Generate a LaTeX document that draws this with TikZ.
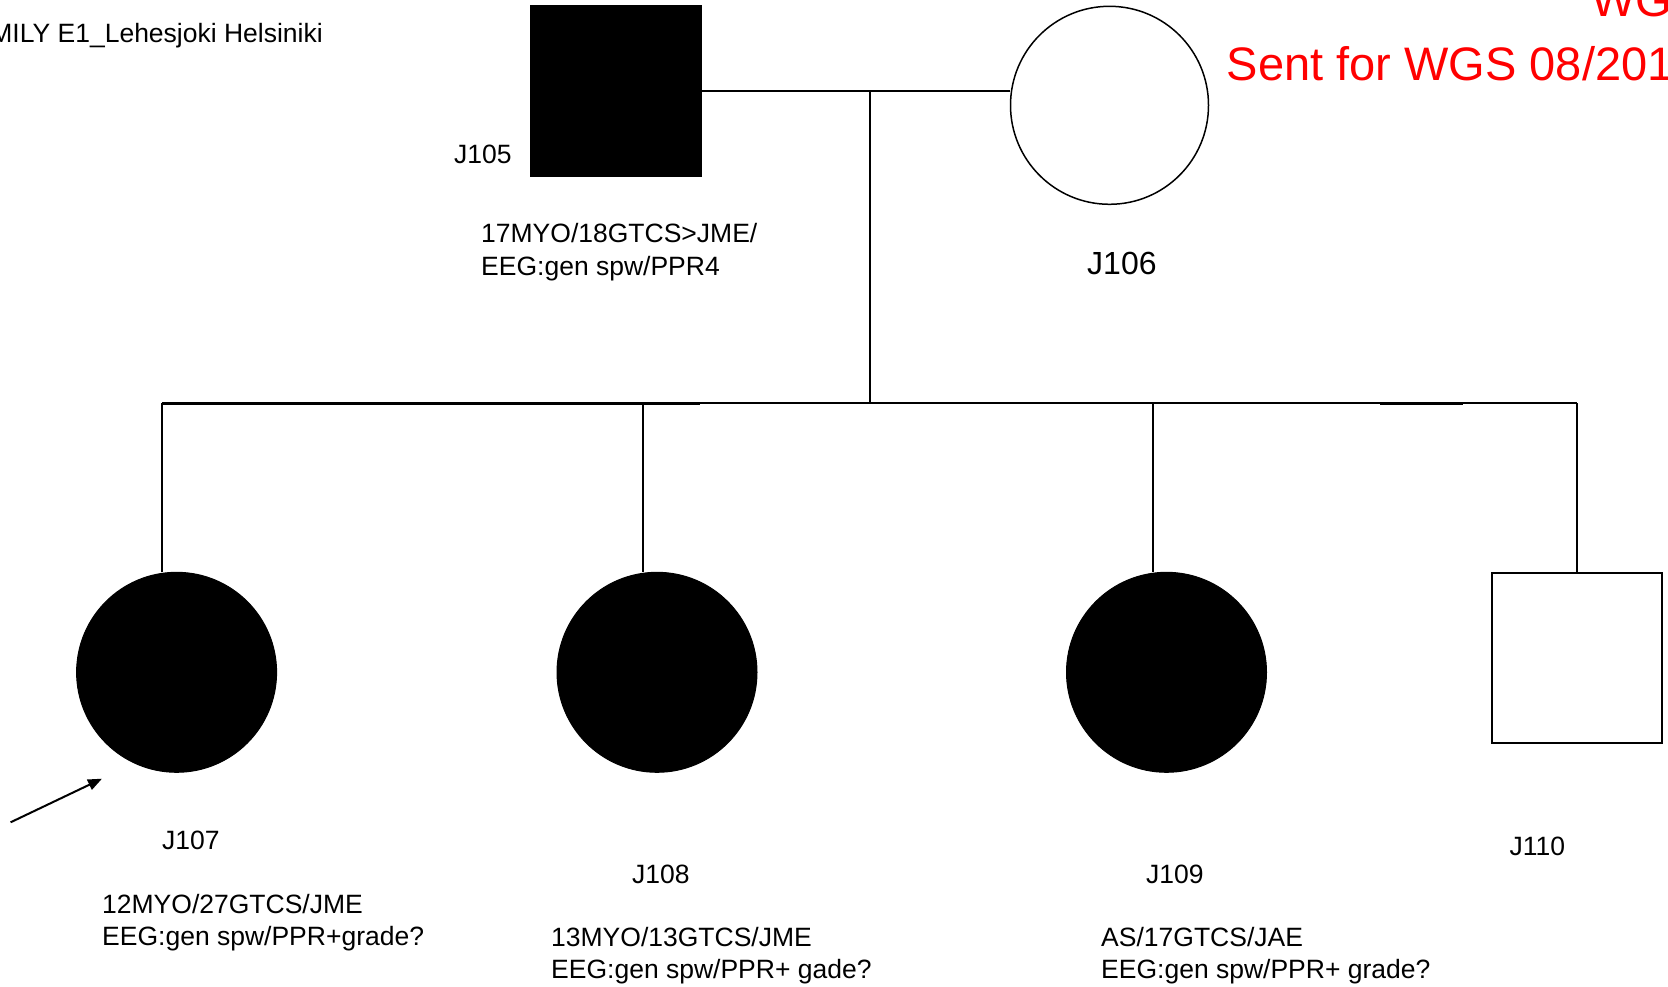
\documentclass[tikz,border=0pt]{standalone}
\usepackage{fontspec}
\setmainfont{Liberation Sans}
\usetikzlibrary{arrows.meta}
\definecolor{wgsred}{RGB}{255,0,0}
\tikzset{
  lbl/.style={inner sep=0pt, anchor=base west, font=\fontsize{26.5}{32}\selectfont},
  redlbl/.style={inner sep=0pt, anchor=base west, text=wgsred, font=\fontsize{47}{57}\selectfont},
  affmale/.style={rectangle, draw=black, fill=black, minimum width=171pt, minimum height=171pt, inner sep=0pt, line width=1pt},
  unmale/.style={rectangle, draw=black, fill=white, minimum width=170pt, minimum height=170pt, inner sep=0pt, line width=2pt},
  afffem/.style={circle, draw=black, fill=black, minimum size=200pt, inner sep=0pt, line width=1pt},
  unfem/.style={circle, draw=black, fill=white, minimum size=198pt, inner sep=0pt, line width=1.5pt},
  link/.style={line width=2pt, draw=black},
  linkdark/.style={line width=3pt, draw=black}
}
\begin{document}
\begin{tikzpicture}[x=1pt,y=-1pt]
\useasboundingbox (0,0) rectangle (1668,987);
\clip (0,0) rectangle (1668,987);
\fill[white] (0,0) rectangle (1668,987);

% persons
\node[affmale] (J105) at (615.5,91.5) {};
\node[unfem] (J106) at (1109.5,105.3) {};
\node[afffem] (J107) at (176.6,672.3) {};
\node[afffem] (J108) at (657,672.3) {};
\node[afffem] (J109) at (1166.5,672.3) {};
\node[unmale] (J110) at (1576.7,658) {};

% coordinates for lines
\coordinate (m) at (870,91.5);
\coordinate (s) at (870,403.3);
\coordinate (c7) at (162,403.3);
\coordinate (c8) at (642.5,403.3);
\coordinate (c9) at (1153,403.3);
\coordinate (c10) at (1576.7,403.3);
\coordinate (dk1) at (700,403.3);
\coordinate (dk2) at (1380,403.3);
\coordinate (dk3) at (1463,403.3);

% couple and descent
\draw[link] (J105.east) -- (J105.east -| J106.west);
\draw[link] (m) -- (s);
% sibship
\draw[link] (c7) -- (c10);
\draw[linkdark] (c7) -- (dk1);
\draw[linkdark] (dk2) -- (dk3);
% drops
\draw[link] (c7) -- (c7 |- J107.north);
\draw[link] (c8) -- (c8 |- J108.north);
\draw[link] (c9) -- (c9 |- J109.north);
\draw[link] (c10) -- (J110.north);

% proband arrow
\coordinate (arrtail) at (10.6,822.3);
\coordinate (arrtip) at (102,778.7);
\draw[line width=2pt, -{Triangle[length=14pt,width=11pt]}] (arrtail) -- (arrtip);

% labels
\node[lbl, anchor=base east] (title) at (323,43) {FAMILY E1\_Lehesjoki Helsiniki};
\node[redlbl] (wg) at (1591,17) {WG};
\node[redlbl] (sent) at (1226.6,81) {Sent for WGS 08/201};

\node[lbl] (l105) at (454,164) {J105};
\node[lbl] (t105a) at (481,243) {17MYO/18GTCS>JME/};
\node[lbl] (t105b) at (481,275) {EEG:gen spw/PPR4};

\node[lbl, font=\fontsize{32}{38}\selectfont] (l106) at (1087,274) {J106};

\node[lbl] (l107) at (162,849) {J107};
\node[lbl] (t107a) at (102,913) {12MYO/27GTCS/JME};
\node[lbl] (t107b) at (102,945) {EEG:gen spw/PPR+grade?};

\node[lbl] (l108) at (632,883) {J108};
\node[lbl] (t108a) at (551,946) {13MYO/13GTCS/JME};
\node[lbl] (t108b) at (551,978) {EEG:gen spw/PPR+ gade?};

\node[lbl] (l109) at (1146,883) {J109};
\node[lbl] (t109a) at (1101,946) {AS/17GTCS/JAE};
\node[lbl] (t109b) at (1101,978) {EEG:gen spw/PPR+ grade?};

\node[lbl] (l110) at (1509.5,855) {J110};
\end{tikzpicture}
\end{document}
